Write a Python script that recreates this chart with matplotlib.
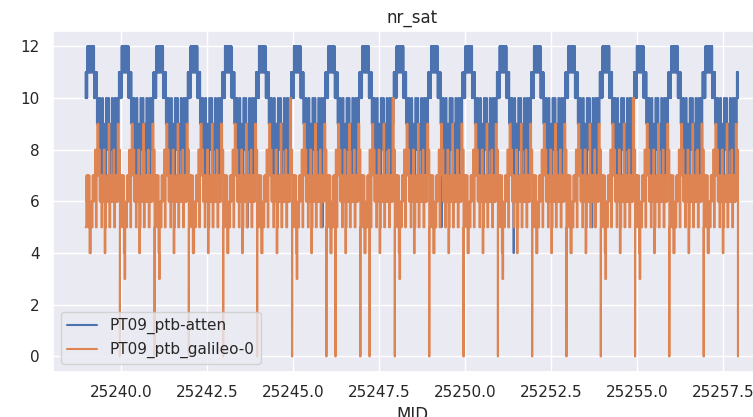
import numpy as np
import matplotlib
matplotlib.use("Agg")
import matplotlib.pyplot as plt
import seaborn as sns
from matplotlib.ticker import ScalarFormatter

# ---- data ----
# MJD of the daily resets (orange count drops to 0); first one = data start, last = data end
day_starts = [25238.978, 25239.977, 25240.984, 25241.980, 25242.979, 25243.966,
              25244.983, 25245.979, 25246.966, 25247.967, 25248.969, 25249.965,
              25250.964, 25251.960, 25252.956, 25253.955, 25254.951, 25255.947,
              25256.945, 25257.941]
extra_zero_mjd = [25246.24, 25247.23]

# daily pattern of PT09_ptb-atten: (day phase, low, high, toggle step in days)
atten_day = [(0.000, 10, 11, 0.004), (0.045, 11, 12, 0.004), (0.245, 10, 11, 0.004),
             (0.330, 9, 10, 0.008), (0.380, 8, 10, 0.025), (0.420, 7, 9, 0.022),
             (0.460, 8, 10, 0.030), (0.500, 6, 9, 0.035), (0.540, 8, 9, 0.010),
             (0.570, 7, 10, 0.030), (0.615, 8, 9, 0.008), (0.650, 8, 10, 0.015),
             (0.690, 7, 9, 0.030), (0.740, 8, 10, 0.025), (0.785, 6, 8, 0.030),
             (0.820, 8, 10, 0.025), (0.865, 7, 9, 0.020), (0.900, 8, 10, 0.015),
             (0.930, 9, 10, 0.008), (0.965, 10, 11, 0.004)]
atten_extra = [(25243.68, 5), (25245.86, 5), (25249.32, 5), (25251.42, 4), (25253.70, 5)]

# daily pattern of PT09_ptb_galileo-0
galileo_day = [(0.000, 5, 5, 0.0), (0.020, 6, 7, 0.006), (0.080, 5, 7, 0.025),
               (0.115, 4, 4, 0.0), (0.130, 3, 3, 0.0), (0.150, 5, 6, 0.015),
               (0.200, 6, 7, 0.006), (0.250, 7, 8, 0.020), (0.300, 5, 8, 0.035),
               (0.340, 9, 9, 0.0), (0.370, 7, 8, 0.020), (0.410, 6, 7, 0.006),
               (0.460, 5, 7, 0.025), (0.500, 6, 8, 0.025), (0.555, 4, 4, 0.0),
               (0.575, 5, 6, 0.015), (0.610, 6, 7, 0.006), (0.650, 7, 9, 0.035),
               (0.690, 5, 7, 0.025), (0.740, 6, 7, 0.006), (0.790, 6, 8, 0.025),
               (0.830, 5, 7, 0.025), (0.880, 6, 7, 0.006), (0.935, 9, 9, 0.0),
               (0.965, 7, 8, 0.015)]
# per-day values of the dip after the reset and of the peak before the next reset
galileo_dip = [4, 3, 3, 4, 4, 4, 3, 4, 4, 3, 4, 4, 3, 4, 4, 3, 3, 4, 4]
galileo_peak = [9, 9, 9, 9, 9, 10, 9, 9, 10, 9, 9, 9, 9, 9, 9, 10, 9, 9, 9]


def build(template, dips=None, peaks=None, zero_at_reset=False, extra=()):
    ts, vs = [], []
    for d in range(len(day_starts) - 1):
        t0, t1 = day_starts[d], day_starts[d + 1]
        per = t1 - t0
        if zero_at_reset and d > 0:
            ts.append(t0 - 0.002); vs.append(0)
        for i, (ph, lo, hi, step) in enumerate(template):
            ph_end = template[i + 1][0] if i + 1 < len(template) else 1.0
            if dips is not None and lo == hi == 3:
                lo = hi = dips[d]
            if peaks is not None and lo == hi == 9 and ph > 0.9:
                lo = hi = peaks[d]
            a, b = t0 + ph * per, t0 + ph_end * per
            if lo == hi:
                ts.append(a); vs.append(lo)
            else:
                n = max(2, int(round((b - a) / step)))
                for k, tt in enumerate(np.linspace(a, b, n, endpoint=False)):
                    ts.append(tt); vs.append(lo if k % 2 == 0 else hi)
    if zero_at_reset:
        ts.append(day_starts[-1] - 0.002); vs.append(0)
    else:
        ts.append(day_starts[-1]); vs.append(vs[-1])
    ts = np.array(ts); vs = np.array(vs, dtype=float)
    for (te, ve) in extra:
        idx = np.searchsorted(ts, te)
        ts = np.insert(ts, idx, [te, te + 0.004]); vs = np.insert(vs, idx, [ve, vs[idx - 1]])
    return ts, vs


t_a, v_a = build(atten_day, extra=atten_extra)
t_g, v_g = build(galileo_day, dips=galileo_dip, peaks=galileo_peak, zero_at_reset=True,
                 extra=[(m, 0) for m in extra_zero_mjd])

# ---- plot ----
sns.set_theme(style="darkgrid")
plt.rcParams["font.family"] = ["DejaVu Sans"]
fig = plt.figure(figsize=(7.53, 4.17), dpi=100)
ax = fig.add_axes([0.0704, 0.108, 0.9535, 0.818])
ax.plot(t_a, v_a, drawstyle="steps-post", color="#4c72b0", lw=1.5, label="PT09_ptb-atten")
ax.plot(t_g, v_g, drawstyle="steps-post", color="#dd8452", lw=1.5, label="PT09_ptb_galileo-0")
ax.set_xlim(25238.03, 25258.9)
ax.set_ylim(-0.6, 12.6)
ax.set_yticks([0, 2, 4, 6, 8, 10, 12])
ax.xaxis.set_major_formatter(ScalarFormatter(useOffset=False))
ax.set_title("nr_sat", fontsize=12)
ax.set_xlabel("MJD", fontsize=12)
ax.tick_params(labelsize=11)
ax.legend(loc="lower left", fontsize=11)
fig.savefig("out.png", dpi=100)
